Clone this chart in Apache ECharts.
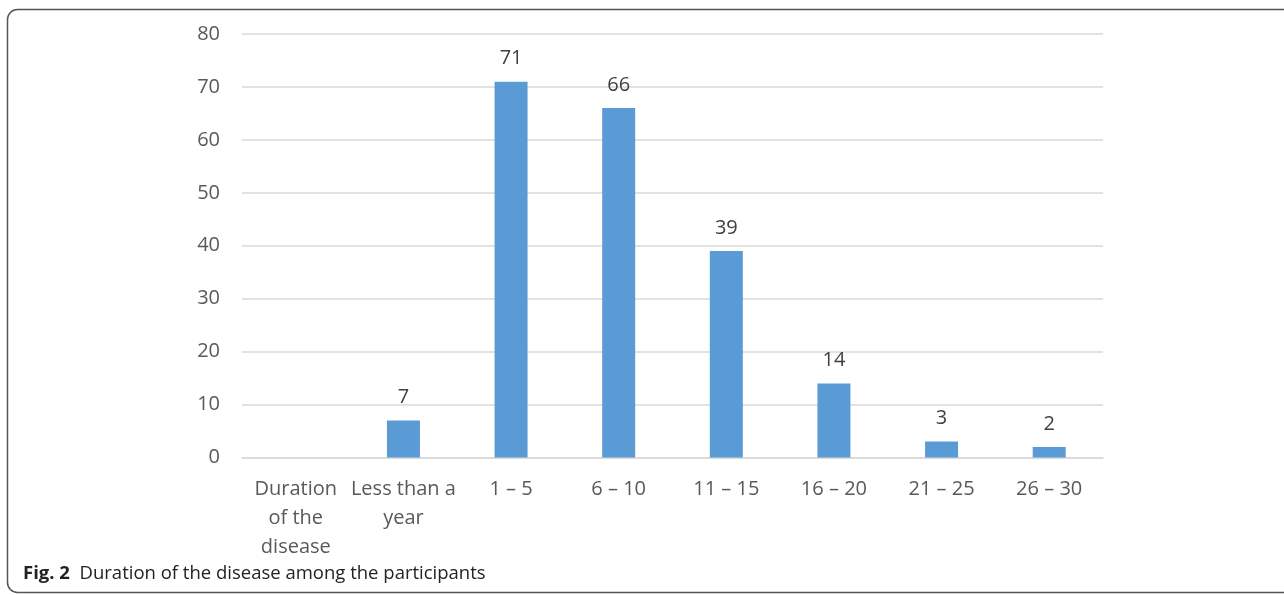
<!DOCTYPE html>
<html>
<head>
<meta charset="utf-8">
<script src="https://cdn.jsdelivr.net/npm/echarts@6/dist/echarts.min.js"></script>
<style>
  html, body { margin: 0; padding: 0; background: #fff; }
  #main { width: 1284px; height: 595px; }
</style>
</head>
<body>
<div id="main"></div>
<script>
// chart data
const categories = ['Duration\nof the\ndisease', 'Less than a\nyear', '1 – 5', '6 – 10', '11 – 15', '16 – 20', '21 – 25', '26 – 30'];
const counts = [null, 7, 71, 66, 39, 14, 3, 2];
const yTicks = [0, 10, 20, 30, 40, 50, 60, 70, 80];

const FONT = '"Open Sans", "DejaVu Sans", sans-serif';

let chart = echarts.init(document.getElementById('main'));

let option = {
    animation: false,
    backgroundColor: '#ffffff',
    grid: {left: 242, right: 181, top: 34, bottom: 137.5},
    xAxis: {
        type: 'category',
        data: categories,
        axisLine: {show: true, lineStyle: {color: '#d9d9d9', width: 1.5}},
        axisTick: {show: false},
        axisLabel: {
            color: '#595959', fontSize: 20, fontFamily: FONT,
            lineHeight: 29, margin: 17, interval: 0
        }
    },
    yAxis: {
        type: 'value',
        min: yTicks[0],
        max: yTicks[yTicks.length - 1],
        interval: 10,
        axisLine: {show: false},
        axisTick: {show: false},
        splitLine: {lineStyle: {color: '#d9d9d9', width: 1.5}},
        axisLabel: {color: '#595959', fontSize: 20, fontFamily: FONT, margin: 22}
    },
    series: [{
        type: 'bar',
        data: counts,
        barWidth: 33,
        itemStyle: {color: '#5b9bd5'},
        label: {
            show: true, position: 'top', distance: 13,
            color: '#404040', fontSize: 20, fontFamily: FONT
        }
    }],
    graphic: [
        {
            type: 'rect',
            shape: {x: 7.5, y: 9.5, width: 1300, height: 583, r: 10},
            style: {fill: null, stroke: '#555555', lineWidth: 1.5},
            silent: true
        },
        {
            type: 'text',
            left: 23, top: 564,
            style: {
                text: '{b|Fig. 2}  Duration of the disease among the participants',
                fill: '#222222', font: '18.5px ' + FONT,
                rich: {b: {fontWeight: 'bold', fontSize: 18.5, fontFamily: FONT, fill: '#222222'}}
            }
        }
    ]
};

chart.setOption(option);
</script>
</body>
</html>
